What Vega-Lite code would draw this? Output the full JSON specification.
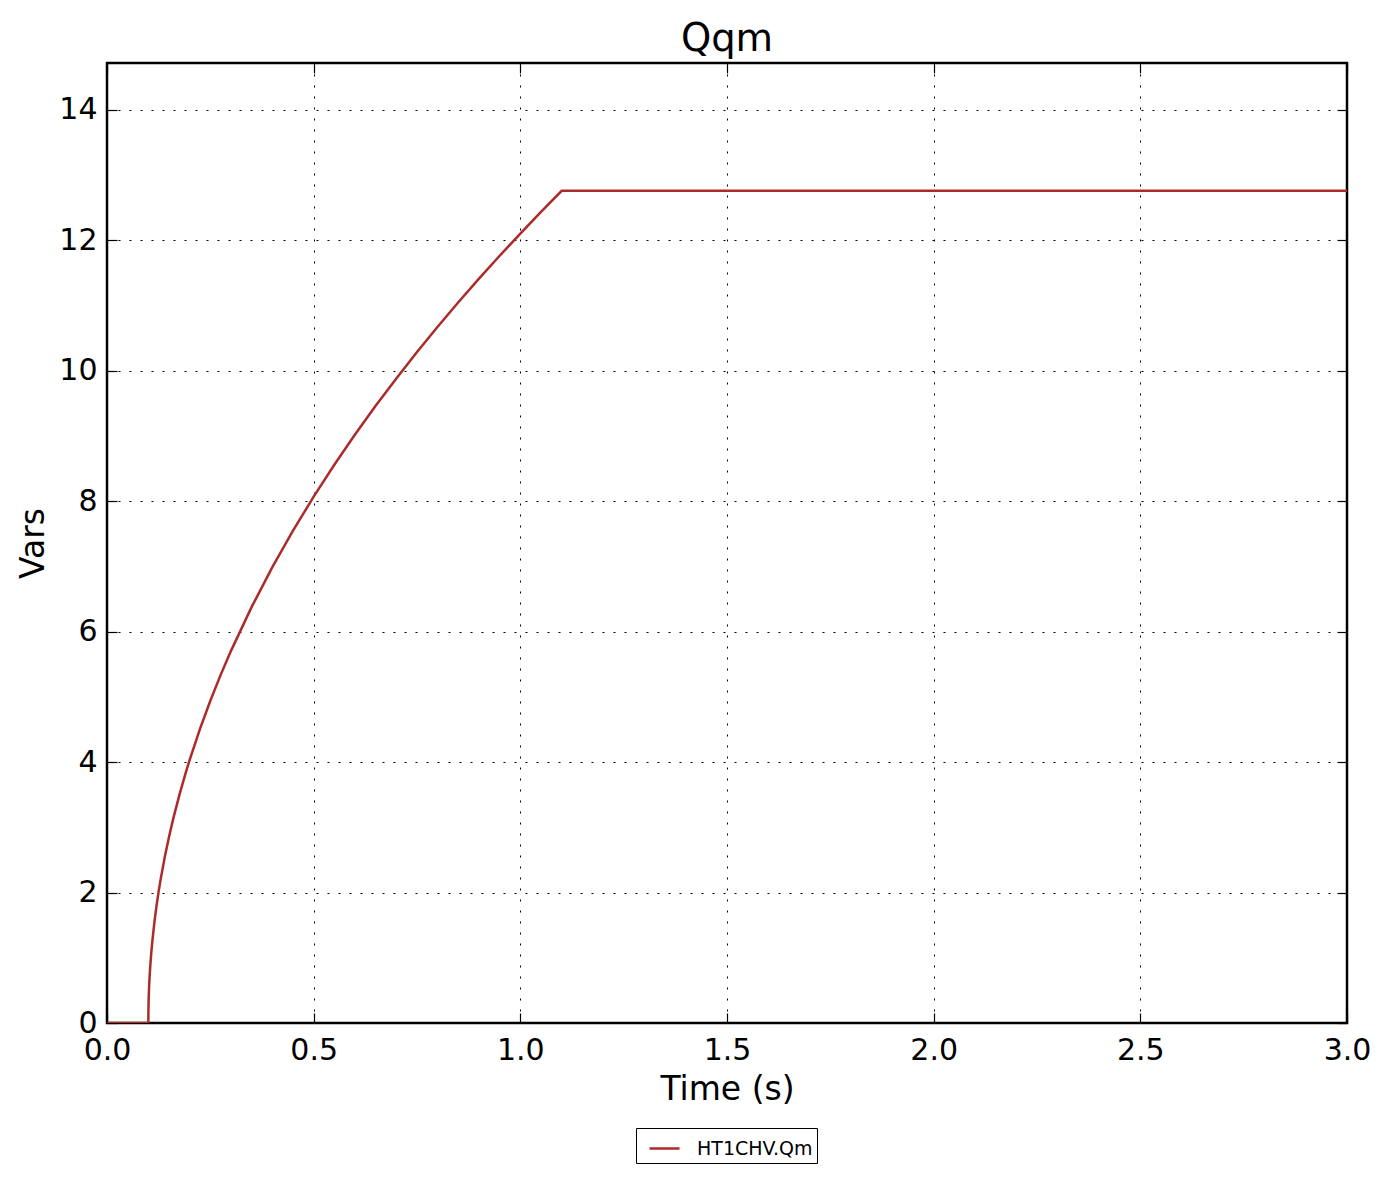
{
  "$schema": "https://vega.github.io/schema/vega-lite/v6.json",
  "width": 1240,
  "height": 960,
  "autosize": {"type": "none"},
  "padding": {"left": 107, "top": 63, "right": 44, "bottom": 159},
  "background": "white",
  "title": {"text": "Qqm", "fontSize": 38.5, "font": "DejaVu Sans", "fontWeight": "normal", "color": "black", "anchor": "middle", "offset": 3},
  "config": {
    "font": "DejaVu Sans",
    "view": {"stroke": "black", "strokeWidth": 2.5},
    "axis": {
      "domain": false,
      "grid": true,
      "gridColor": "black",
      "gridDash": [2, 9],
      "gridWidth": 1,
      "gridOpacity": 1,
      "tickColor": "black",
      "tickSize": -10,
      "tickWidth": 1.2,
      "labelFont": "DejaVu Sans",
      "labelFontSize": 30,
      "labelColor": "black",
      "labelFlush": false,
      "labelOverlap": false,
      "titleFont": "DejaVu Sans",
      "titleFontSize": 33,
      "titleFontWeight": "normal",
      "titleColor": "black"
    }
  },
  "data": {"values": [
    {"t": 0.0, "v": 0.0, "s": "HT1CHV.Qm"},
    {"t": 0.1, "v": 0.0, "s": "HT1CHV.Qm"},
    {"t": 0.1001, "v": 0.128, "s": "HT1CHV.Qm"},
    {"t": 0.1003, "v": 0.221, "s": "HT1CHV.Qm"},
    {"t": 0.1005, "v": 0.285, "s": "HT1CHV.Qm"},
    {"t": 0.101, "v": 0.403, "s": "HT1CHV.Qm"},
    {"t": 0.1015, "v": 0.494, "s": "HT1CHV.Qm"},
    {"t": 0.102, "v": 0.571, "s": "HT1CHV.Qm"},
    {"t": 0.103, "v": 0.699, "s": "HT1CHV.Qm"},
    {"t": 0.104, "v": 0.807, "s": "HT1CHV.Qm"},
    {"t": 0.105, "v": 0.902, "s": "HT1CHV.Qm"},
    {"t": 0.107, "v": 1.068, "s": "HT1CHV.Qm"},
    {"t": 0.11, "v": 1.276, "s": "HT1CHV.Qm"},
    {"t": 0.115, "v": 1.563, "s": "HT1CHV.Qm"},
    {"t": 0.12, "v": 1.805, "s": "HT1CHV.Qm"},
    {"t": 0.125, "v": 2.018, "s": "HT1CHV.Qm"},
    {"t": 0.13, "v": 2.21, "s": "HT1CHV.Qm"},
    {"t": 0.14, "v": 2.552, "s": "HT1CHV.Qm"},
    {"t": 0.15, "v": 2.853, "s": "HT1CHV.Qm"},
    {"t": 0.16, "v": 3.126, "s": "HT1CHV.Qm"},
    {"t": 0.175, "v": 3.494, "s": "HT1CHV.Qm"},
    {"t": 0.19, "v": 3.828, "s": "HT1CHV.Qm"},
    {"t": 0.2, "v": 4.035, "s": "HT1CHV.Qm"},
    {"t": 0.225, "v": 4.511, "s": "HT1CHV.Qm"},
    {"t": 0.25, "v": 4.942, "s": "HT1CHV.Qm"},
    {"t": 0.275, "v": 5.338, "s": "HT1CHV.Qm"},
    {"t": 0.3, "v": 5.706, "s": "HT1CHV.Qm"},
    {"t": 0.35, "v": 6.38, "s": "HT1CHV.Qm"},
    {"t": 0.4, "v": 6.989, "s": "HT1CHV.Qm"},
    {"t": 0.45, "v": 7.549, "s": "HT1CHV.Qm"},
    {"t": 0.5, "v": 8.07, "s": "HT1CHV.Qm"},
    {"t": 0.55, "v": 8.56, "s": "HT1CHV.Qm"},
    {"t": 0.6, "v": 9.023, "s": "HT1CHV.Qm"},
    {"t": 0.65, "v": 9.463, "s": "HT1CHV.Qm"},
    {"t": 0.7, "v": 9.884, "s": "HT1CHV.Qm"},
    {"t": 0.75, "v": 10.288, "s": "HT1CHV.Qm"},
    {"t": 0.8, "v": 10.676, "s": "HT1CHV.Qm"},
    {"t": 0.85, "v": 11.051, "s": "HT1CHV.Qm"},
    {"t": 0.9, "v": 11.413, "s": "HT1CHV.Qm"},
    {"t": 0.95, "v": 11.764, "s": "HT1CHV.Qm"},
    {"t": 1.0, "v": 12.105, "s": "HT1CHV.Qm"},
    {"t": 1.05, "v": 12.437, "s": "HT1CHV.Qm"},
    {"t": 1.1, "v": 12.76, "s": "HT1CHV.Qm"},
    {"t": 3.0, "v": 12.76, "s": "HT1CHV.Qm"}
  ]},
  "layer": [
    {
      "mark": {"type": "line", "strokeWidth": 2.5, "clip": true},
      "encoding": {
        "x": {"field": "t", "type": "quantitative", "scale": {"domain": [0, 3], "nice": false, "zero": false},
              "axis": {"title": "Time (s)", "values": [0, 0.5, 1, 1.5, 2, 2.5, 3], "format": ".1f", "labelPadding": 22, "titlePadding": 8}},
        "y": {"field": "v", "type": "quantitative", "scale": {"domain": [0, 14.72], "nice": false, "zero": false},
              "axis": {"title": "Vars", "values": [0, 2, 4, 6, 8, 10, 12, 14], "labelPadding": 20, "titlePadding": 8}},
        "color": {"field": "s", "type": "nominal", "scale": {"range": ["#ad2a2a"]},
                  "legend": {"title": null, "orient": "none", "legendX": 529, "legendY": 1065, "strokeColor": "black",
                             "fillColor": "white", "padding": 4, "cornerRadius": 0, "labelFontSize": 19, "labelFont": "DejaVu Sans", "labelColor": "black",
                             "symbolType": "stroke", "symbolSize": 900, "symbolStrokeWidth": 2.5, "labelOffset": 16, "symbolOffset": 8}}
      }
    },
    {
      "mark": {"type": "line", "opacity": 0},
      "encoding": {
        "x": {"field": "t", "type": "quantitative", "scale": {"domain": [0, 3], "nice": false, "zero": false},
              "axis": {"orient": "top", "title": null, "labels": false, "grid": false, "values": [0, 0.5, 1, 1.5, 2, 2.5, 3]}},
        "y": {"field": "v", "type": "quantitative", "scale": {"domain": [0, 14.72], "nice": false, "zero": false},
              "axis": {"orient": "right", "title": null, "labels": false, "grid": false, "values": [0, 2, 4, 6, 8, 10, 12, 14]}}
      }
    }
  ],
  "resolve": {"axis": {"x": "independent", "y": "independent"}}
}
